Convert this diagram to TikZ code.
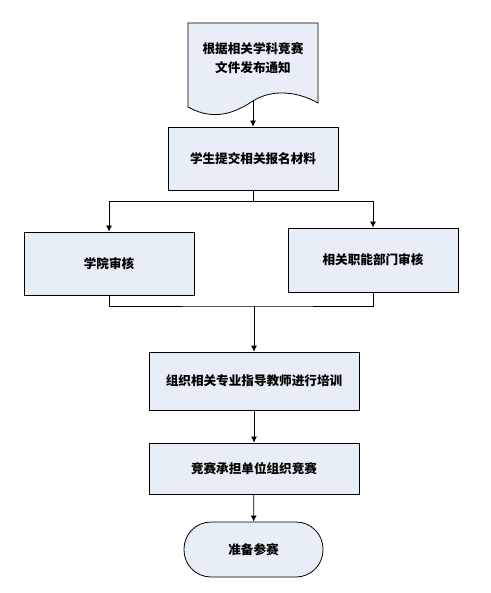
\documentclass[tikz,border=0pt]{standalone}
\usepackage{fontspec}
\newfontfamily\cjk{Noto Sans CJK SC}
\usepackage{tikz}
\usetikzlibrary{arrows.meta}
\usepackage{xcolor}
\definecolor{boxfill}{RGB}{232,238,247}
\tikzset{
  % plain process box
  procbox/.style={draw=black,fill=boxfill,line width=0.8pt,
    minimum width=#1,inner sep=0pt,
    font=\cjk\bfseries\fontsize{12.6}{19}\selectfont},
  % connector with a small filled head
  flowarr/.style={line width=0.8pt,-{Latex[length=6pt,width=6pt]}},
  flowline/.style={line width=0.8pt},
}

\begin{document}
\begin{tikzpicture}[x=1pt,y=-1pt]
    \useasboundingbox[fill=white] (0,0) rectangle (490,593);
    % document shape on top
    \draw[fill=boxfill,line width=0.8pt] (188,23) -- (318,23) -- (318,103)
      .. controls (295,90) and (270,90) .. (253,101)
      .. controls (236,112) and (215,122) .. (188,107) -- cycle;
    \node[font=\cjk\bfseries\fontsize{12.6}{19}\selectfont,align=center] (notice) at (253,58) {根据相关学科竞赛\\文件发布通知};
    \coordinate (noticeend) at (253,101);

    \node[procbox=170pt,minimum height=63pt] (submit) at (253,158.5) {学生提交相关报名材料};
    \node[procbox=170pt,minimum height=63pt] (college) at (109,263.5) {学院审核};
    \node[procbox=170pt,minimum height=64pt] (dept) at (373,260) {相关职能部门审核};
    \node[procbox=210pt,minimum height=58pt] (train) at (254,381) {组织相关专业指导教师进行培训};
    \node[procbox=210pt,minimum height=51pt] (host) at (254,468.5) {竞赛承担单位组织竞赛};
    \node[procbox=139pt,minimum height=55pt,rounded corners=27pt] (ready) at (253.5,549.5) {准备参赛};

    \coordinate (split) at (253,201);
    \coordinate (join) at (254,306);

    \begin{scope}
    \draw[flowarr] (noticeend) -- (submit);
    \draw[flowline] (submit) -- (split);
    \draw[flowarr] (split) -| (college);
    \draw[flowarr] (split) -| (dept);
    \draw[flowline] (college.south) |- (join) -| (dept.south);
    \draw[flowarr] (join) -- (train);
    \draw[flowarr] (train) -- (host);
    \draw[flowarr] (host) -- (ready);
    \end{scope}
\end{tikzpicture}
\end{document}
